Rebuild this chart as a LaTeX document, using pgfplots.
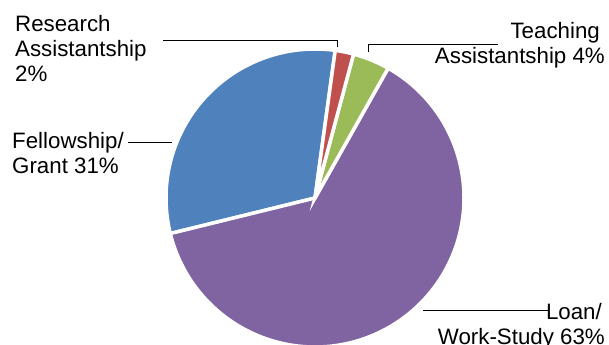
\documentclass[border=0pt]{standalone}
\usepackage{pgfplots}
\usepackage{pgfplotstable}
\pgfplotsset{compat=1.18}
\usepackage{fontspec}
\setmainfont{Liberation Sans}
\definecolor{cRes}{HTML}{C0504D}
\definecolor{cTea}{HTML}{9BBB59}
\definecolor{cLoan}{HTML}{8064A2}
\definecolor{cFel}{HTML}{4F81BD}

\pgfplotstableread{
label pct
Research 2
Teaching 4
Loan 63
Fellowship 31
}\piedata
\pgfplotstablegetelem{0}{pct}\of\piedata \let\pA\pgfplotsretval
\pgfplotstablegetelem{1}{pct}\of\piedata \let\pB\pgfplotsretval
\pgfplotstablegetelem{2}{pct}\of\piedata \let\pC\pgfplotsretval
\pgfplotstablegetelem{3}{pct}\of\piedata \let\pD\pgfplotsretval
\pgfmathsetmacro{\eO}{82.2}
\pgfmathsetmacro{\eA}{\eO-3.6*\pA}
\pgfmathsetmacro{\eB}{\eA-3.6*\pB}
\pgfmathsetmacro{\eC}{\eB-3.6*\pC}
\pgfmathsetmacro{\eD}{\eC+360}
\def\cx{315}
\def\cy{198}
\def\R{149}

\begin{document}
\begin{tikzpicture}
\begin{axis}[
  scale only axis, width=609bp, height=345bp,
  xmin=0, xmax=609, ymin=0, ymax=345, y dir=reverse,
  hide axis, clip=true,
  every axis plot/.append style={draw=white, line width=3.5bp, mark=none},
]
% Fellowship/Grant
\addplot[fill=cFel, domain=\eO:\eD, samples=120, variable=\t]
  ({\cx+\R*cos(t)},{\cy-\R*sin(t)}) -- (axis cs:\cx,\cy) -- cycle;
% Loan / Work-Study
\addplot[fill=cLoan, domain=\eC:\eB, samples=200, variable=\t]
  ({\cx+\R*cos(t)},{\cy-\R*sin(t)}) -- (axis cs:\cx,\cy) -- cycle;
% Teaching
\addplot[fill=cTea, domain=\eB:\eA, samples=20, variable=\t]
  ({\cx+\R*cos(t)},{\cy-\R*sin(t)}) -- (axis cs:\cx,\cy) -- cycle;
% Research
\addplot[fill=cRes, domain=\eA:\eO, samples=15, variable=\t]
  ({\cx+\R*cos(t)},{\cy-\R*sin(t)}) -- (axis cs:\cx,\cy) -- cycle;

% leader lines
\draw[black, line width=0.9bp] (axis cs:163,40.5) -- (axis cs:337.7,40.5) -- (axis cs:337.7,47.5);
\draw[black, line width=0.9bp] (axis cs:368,52) -- (axis cs:368,44.3) -- (axis cs:498,44.3);
\draw[black, line width=0.9bp] (axis cs:128,142.7) -- (axis cs:172,142.7);
\draw[black, line width=0.9bp] (axis cs:423,310.7) -- (axis cs:548,310.7);

% labels
\begin{scope}[every node/.style={inner sep=0pt, font=\fontsize{22.3bp}{25bp}\selectfont}]
\node[anchor=base west] at (axis cs:15,31.7) {Research};
\node[anchor=base west] at (axis cs:15,56.7) {Assistantship};
\node[anchor=base west] at (axis cs:15,81.7) {2\%};
\node[anchor=base east] at (axis cs:600,38.3) {Teaching};
\node[anchor=base east] at (axis cs:605,63.3) {Assistantship 4\%};
\node[anchor=base west] at (axis cs:12,148.3) {Fellowship/};
\node[anchor=base west] at (axis cs:12,173.3) {Grant 31\%};
\node[anchor=base east] at (axis cs:602,319.3) {Loan/};
\node[anchor=base east] at (axis cs:605,344.3) {Work-Study 63\%};
\end{scope}
\end{axis}
\pgfresetboundingbox
\path (current axis.south west) rectangle (current axis.north east);
\end{tikzpicture}
\end{document}
